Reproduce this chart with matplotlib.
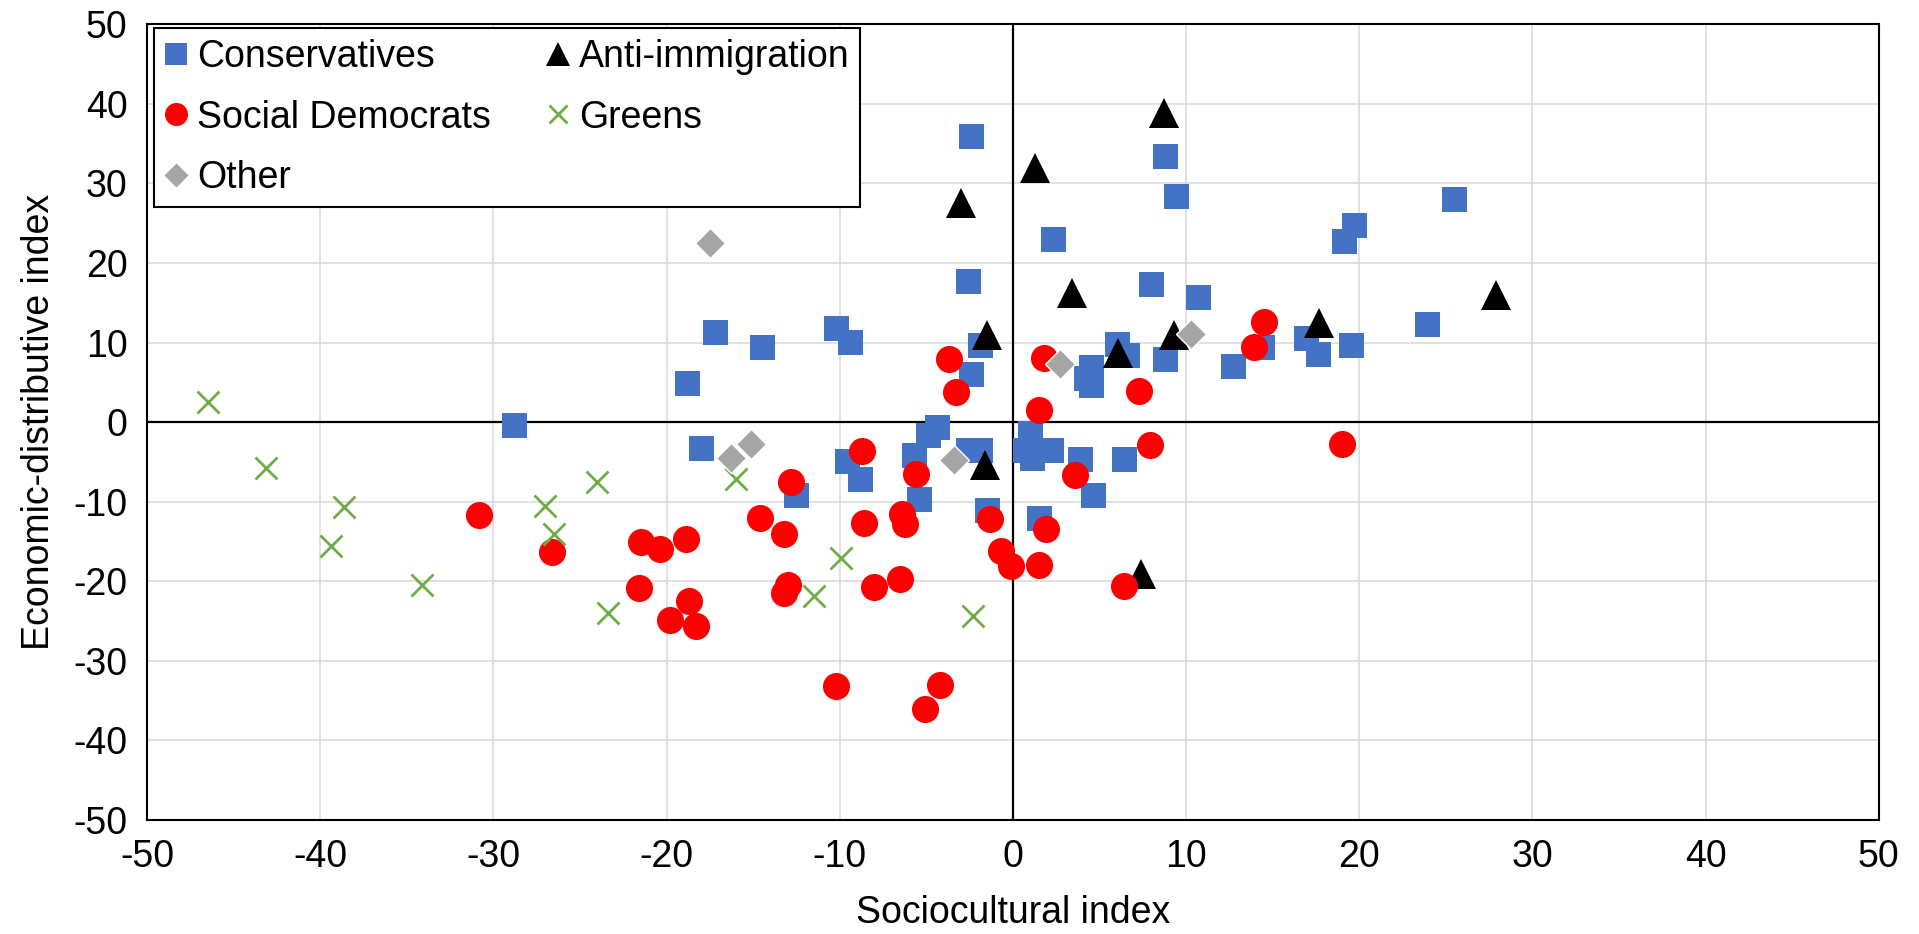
import matplotlib
matplotlib.use("Agg")
import matplotlib.pyplot as plt

plt.rcParams['font.family'] = ['Liberation Sans', 'DejaVu Sans']
plt.rcParams['axes.unicode_minus'] = False

cons_x = [-28.8, -18.8, -17.2, -14.5, -18.0, -12.5, -10.2, -9.4, -9.6, -8.8, -5.7, -5.4, -4.9, -4.4,
          -2.4, -2.6, -2.4, -1.9, -2.6, -1.9, -1.5, 1.0, 0.7, 1.1, 2.2, 1.5, 2.3, 3.9, 4.2, 4.5, 4.5,
          4.6, 6.0, 6.6, 6.4, 8.0, 8.8, 8.8, 9.4, 10.7, 12.7, 14.4, 16.9, 17.6, 19.1, 19.7, 19.5, 23.9, 25.5]
cons_y = [-0.3, 4.9, 11.3, 9.4, -3.2, -9.2, 11.8, 10.1, -4.9, -7.2, -4.1, -9.7, -1.6, -0.6,
          35.9, 17.7, 6.1, 9.7, -3.5, -3.5, -11.1, -1.3, -3.5, -4.5, -3.5, -12.0, 23.0, -4.6, 5.5, 6.9, 4.7,
          -9.1, 9.8, 8.5, -4.6, 17.4, 33.4, 7.9, 28.4, 15.7, 7.0, 9.4, 10.6, 8.6, 22.8, 24.8, 9.7, 12.3, 28.0]

anti_x = [8.7, 1.3, -3.0, 3.4, 27.9, -1.5, 17.7, 9.3, 6.1, -1.6, 7.4]
anti_y = [38.8, 31.9, 27.5, 16.2, 16.0, 10.9, 12.4, 10.9, 8.7, -5.4, -19.1]

sd_x = [-30.8, -26.6, -21.5, -20.4, -18.9, -21.6, -18.7, -19.8, -18.3, -14.6, -13.2, -12.8, -13.0, -13.2,
        -8.7, -8.6, -8.0, -6.5, -6.4, -6.25, -5.6, -3.3, -3.7, -10.2, -4.2, -5.1, -1.3, -0.7, -0.1,
        1.8, 1.5, 7.3, 7.9, 3.6, 1.9, 1.5, 6.4, 14.5, 13.9, 19.0]
sd_y = [-11.7, -16.3, -15.1, -16.0, -14.7, -20.9, -22.5, -24.8, -25.6, -12.1, -14.1, -7.5, -20.4, -21.5,
        -3.6, -12.7, -20.7, -19.7, -11.5, -12.8, -6.5, 3.8, 8.0, -33.2, -33.0, -36.1, -12.2, -16.2, -18.1,
        8.1, 1.5, 3.9, -2.9, -6.7, -13.4, -17.9, -20.6, 12.6, 9.4, -2.8]

green_x = [-46.5, -43.1, -38.6, -39.4, -34.1, -27.0, -26.5, -24.0, -23.4, -16.0, -9.9, -11.5, -2.3]
green_y = [2.5, -5.8, -10.7, -15.6, -20.5, -10.5, -14.1, -7.5, -24.0, -7.2, -17.1, -21.9, -24.4]

other_x = [-17.5, -15.1, -16.3, -3.4, 2.7, 10.3]
other_y = [22.5, -2.7, -4.5, -4.8, 7.3, 11.1]

x_ticks = [-50, -40, -30, -20, -10, 0, 10, 20, 30, 40, 50]
y_ticks = [-50, -40, -30, -20, -10, 0, 10, 20, 30, 40, 50]

FS = 27

fig = plt.figure(figsize=(19.19, 9.34), dpi=100)
ax = fig.add_axes([0.0766, 0.122, 0.9024, 0.852])
ax.set_xlim(-50, 50)
ax.set_ylim(-50, 50)
ax.set_xticks(x_ticks)
ax.set_yticks(y_ticks)
ax.grid(True, color='#D9D9D9', linewidth=1.1, zorder=0)
ax.set_axisbelow(True)
ax.axhline(0, color='black', linewidth=1.6, zorder=1)
ax.axvline(0, color='black', linewidth=1.6, zorder=1)
for s in ax.spines.values():
    s.set_color('black')
    s.set_linewidth(1.5)
ax.tick_params(length=0, labelsize=FS, pad=14)

h_cons, = ax.plot(cons_x, cons_y, 's', color='#4472C4', markersize=18, markeredgewidth=0,
                  linestyle='none', zorder=3, label='Conservatives')
h_anti, = ax.plot(anti_x, anti_y, '^', color='black', markersize=21, markeredgewidth=0,
                  linestyle='none', zorder=4, label='Anti-immigration')
h_sd, = ax.plot(sd_x, sd_y, 'o', color='#FF0000', markersize=19.5, markeredgewidth=0,
                linestyle='none', zorder=5, label='Social Democrats')
h_gr, = ax.plot(green_x, green_y, 'x', color='#70AD47', markersize=16, markeredgewidth=2.0,
                linestyle='none', zorder=6, label='Greens')
h_ot, = ax.plot(other_x, other_y, 'D', color='#A5A5A5', markersize=15, markeredgewidth=1.0,
                markeredgecolor='white', linestyle='none', zorder=7, label='Other')

leg = ax.legend(handles=[h_cons, h_sd, h_ot, h_anti, h_gr], ncol=2, loc='upper left',
                bbox_to_anchor=(0.0043, 0.995), fontsize=FS, frameon=True, fancybox=False,
                edgecolor='black', framealpha=1, markerscale=0.85, handlelength=0.6,
                handletextpad=0.25, labelspacing=0.66, columnspacing=1.5, borderpad=0.28,
                borderaxespad=0)
leg.get_frame().set_linewidth(1.5)

ax.set_xlabel('Sociocultural index', fontsize=FS, labelpad=14)
ax.set_ylabel('Economic-distributive index', fontsize=FS, labelpad=12)

fig.savefig('out.png', dpi=100)
